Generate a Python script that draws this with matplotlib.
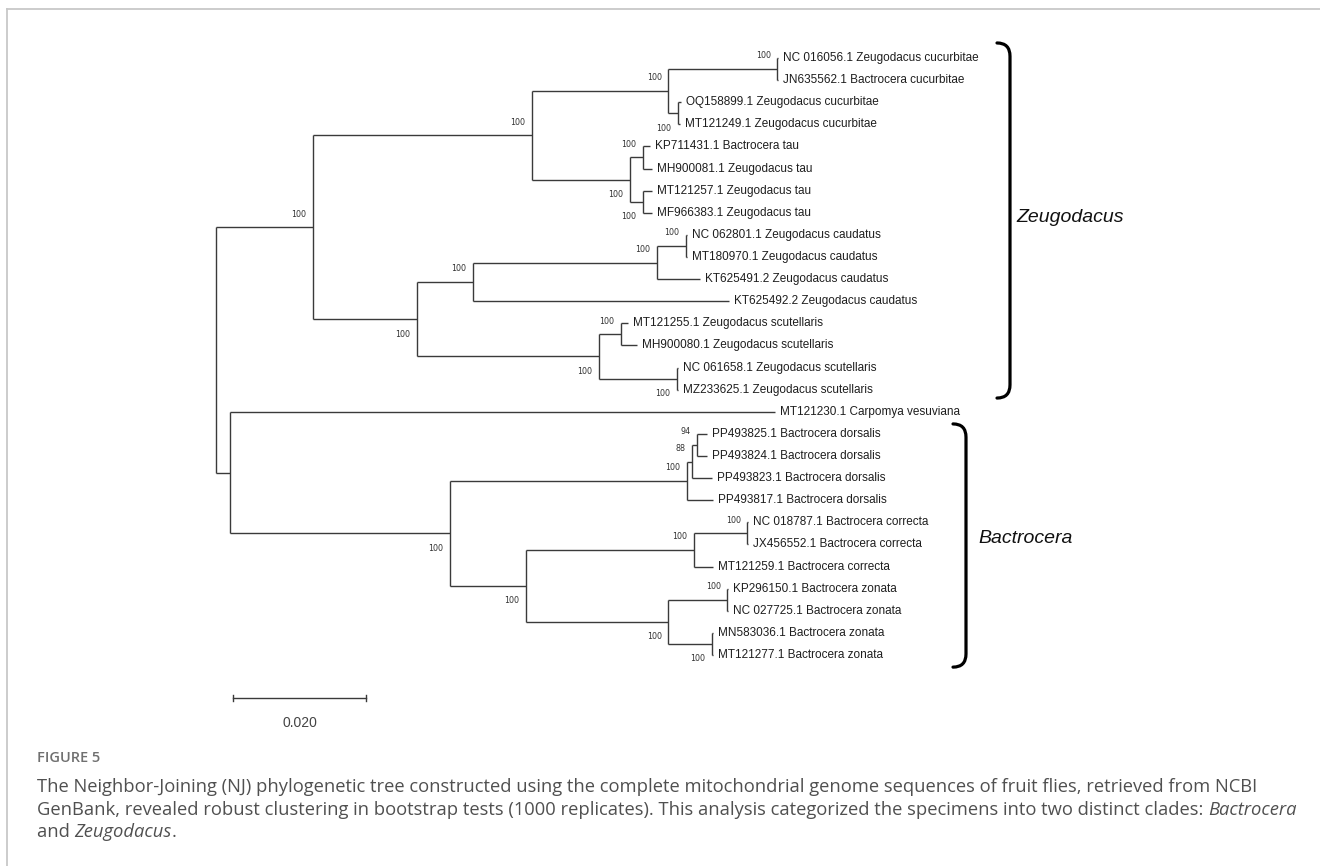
import matplotlib
matplotlib.use("Agg")
import matplotlib.pyplot as plt
from matplotlib.lines import Line2D
from matplotlib.path import Path
from matplotlib.patches import PathPatch

# arbol NJ en formato newick (longitudes de rama y bootstrap)
tree_newick = (
    "(((("
    "(NC 016056.1 Zeugodacus cucurbitae:0.0001,JN635562.1 Bactrocera cucurbitae:0.0001)100:0.0164,"
    "(OQ158899.1 Zeugodacus cucurbitae:0.0005,MT121249.1 Zeugodacus cucurbitae:0.0004)100:0.0014)100:0.0205,"
    "((KP711431.1 Bactrocera tau:0.0011,MH900081.1 Zeugodacus tau:0.0014)100:0.0020,"
    "(MT121257.1 Zeugodacus tau:0.0013,MF966383.1 Zeugodacus tau:0.0014)100:0.0020)100:0.0147)100:0.0329,"
    "((((NC 062801.1 Zeugodacus caudatus:0.0001,MT180970.1 Zeugodacus caudatus:0.0001)100:0.0044,"
    "KT625491.2 Zeugodacus caudatus:0.0065)100:0.0277,KT625492.2 Zeugodacus caudatus:0.0386)100:0.0084,"
    "((MT121255.1 Zeugodacus scutellaris:0.0011,MH900080.1 Zeugodacus scutellaris:0.0024)100:0.0033,"
    "(NC 061658.1 Zeugodacus scutellaris:0.0001,MZ233625.1 Zeugodacus scutellaris:0.0001)100:0.0117)100:0.0274)100:0.0156)100:0.0146,"
    "(MT121230.1 Carpomya vesuviana:0.0820,"
    "((((PP493825.1 Bactrocera dorsalis:0.0015,PP493824.1 Bactrocera dorsalis:0.0015)94:0.0008,"
    "PP493823.1 Bactrocera dorsalis:0.0030)88:0.0008,PP493817.1 Bactrocera dorsalis:0.0039)100:0.0356,"
    "(((NC 018787.1 Bactrocera correcta:0.0001,JX456552.1 Bactrocera correcta:0.0001)100:0.0080,"
    "MT121259.1 Bactrocera correcta:0.0029)100:0.0253,"
    "((KP296150.1 Bactrocera zonata:0.0001,NC 027725.1 Bactrocera zonata:0.0001)100:0.0089,"
    "(MN583036.1 Bactrocera zonata:0.0001,MT121277.1 Bactrocera zonata:0.0001)100:0.0066)100:0.0214)100:0.0114)100:0.0331):0.0021);"
)

clade_names = ["Zeugodacus", "Bactrocera"]
clade_first = ["NC 016056.1 Zeugodacus cucurbitae", "PP493825.1 Bactrocera dorsalis"]
clade_last = ["MZ233625.1 Zeugodacus scutellaris", "MT121277.1 Bactrocera zonata"]

scale_value = 0.020
scale_text = "0.020"

caption_head = "FIGURE 5"
caption_l1 = ("The Neighbor-Joining (NJ) phylogenetic tree constructed using the complete "
              "mitochondrial genome sequences of fruit flies, retrieved from NCBI")
caption_l2 = ("GenBank, revealed robust clustering in bootstrap tests (1000 replicates). "
              "This analysis categorized the specimens into two distinct clades: ")


def parse_newick(s):
    pos = 0

    def node():
        nonlocal pos
        n = {"children": [], "name": "", "support": "", "length": 0.0}
        if s[pos] == "(":
            pos += 1
            while True:
                n["children"].append(node())
                if s[pos] == ",":
                    pos += 1
                    continue
                pos += 1
                break
            start = pos
            while s[pos] not in ":,);":
                pos += 1
            n["support"] = s[start:pos]
        else:
            start = pos
            while s[pos] not in ":,);":
                pos += 1
            n["name"] = s[start:pos]
        if s[pos] == ":":
            pos += 1
            start = pos
            while s[pos] not in ",);":
                pos += 1
            n["length"] = float(s[start:pos])
        return n

    return node()


root = parse_newick(tree_newick)
root["length"] = 0.0
leaves = []


def layout(n, x_parent, first):
    n["x"] = x_parent + n["length"]
    n["px"] = x_parent
    n["first"] = first
    if not n["children"]:
        n["y"] = len(leaves)
        leaves.append(n)
    else:
        for i, c in enumerate(n["children"]):
            layout(c, n["x"], i == 0)
        n["y"] = (n["children"][0]["y"] + n["children"][-1]["y"]) / 2


layout(root, 0.0, True)

# figura en pixeles: 6650 px por unidad de distancia, 22.11 px por fila
PX = 6650.0
x_root_px = 216
row0_px = 58
row_px = 22.11

fig = plt.figure(figsize=(13.2, 8.66), dpi=100)
ax = fig.add_axes([0, 0, 1, 1])
ax.set_xlim(-x_root_px / PX, (1320 - x_root_px) / PX)
ax.set_ylim((866 - row0_px) / row_px, -row0_px / row_px)
ax.axis("off")

line_col = "#3a3a3a"
gap = 5 / PX


def draw(n, is_root=False):
    if not is_root:
        ax.plot([n["px"], n["x"]], [n["y"], n["y"]], color=line_col, lw=1.0,
                solid_capstyle="butt")
    if n["children"]:
        ys = [c["y"] for c in n["children"]]
        ax.plot([n["x"], n["x"]], [min(ys), max(ys)], color=line_col, lw=1.0,
                solid_capstyle="butt")
        if n["support"]:
            dy = -0.6 if n["first"] else 0.68
            ax.text(n["x"] - 6.5 / PX, n["y"] + dy, n["support"], fontsize=5.8,
                    family="DejaVu Sans", color="#333333", ha="right", va="center")
        for c in n["children"]:
            draw(c)
    else:
        ax.text(n["x"] + gap, n["y"], n["name"], fontsize=8.5,
                family="Liberation Sans", color="#1e1e1e", ha="left", va="center")


draw(root, True)

# llaves de los clados
leaf_row = {lf["name"]: lf["y"] for lf in leaves}
bracket_x = [1010, 966]
bracket_pad = [(0.68, 0.38), (0.45, 0.55)]
label_gap = [6, 12]
label_dy = [-0.15, -0.3]
for k in range(len(clade_names)):
    y0 = leaf_row[clade_first[k]] - bracket_pad[k][0]
    y1 = leaf_row[clade_last[k]] + bracket_pad[k][1]
    xb = (bracket_x[k] - x_root_px) / PX
    w = 13 / PX
    h = 0.6
    verts = [(xb - w, y0), (xb, y0), (xb, y0 + h), (xb, y1 - h), (xb, y1), (xb - w, y1)]
    codes = [Path.MOVETO, Path.CURVE3, Path.CURVE3, Path.LINETO, Path.CURVE3, Path.CURVE3]
    ax.add_patch(PathPatch(Path(verts, codes), fill=False, color="black", lw=2.3,
                           capstyle="round"))
    ax.text(xb + label_gap[k] / PX, (y0 + y1) / 2 + label_dy[k], clade_names[k], fontsize=14,
            family="Liberation Sans", style="italic", color="#111111",
            ha="left", va="center")

# barra de escala
sb_x0 = 17 / PX
sb_row = (698 - row0_px) / row_px
ax.plot([sb_x0, sb_x0 + scale_value], [sb_row, sb_row], color=line_col, lw=1.0)
for xx in (sb_x0, sb_x0 + scale_value):
    ax.plot([xx, xx], [sb_row - 0.15, sb_row + 0.15], color=line_col, lw=1.0)
ax.text(sb_x0 + scale_value / 2, (723 - row0_px) / row_px, scale_text, fontsize=10,
        family="Liberation Sans", color="#444444", ha="center", va="center")

# marco gris
fx = 7 / 1320
fy = 1 - 9 / 866
fig.add_artist(Line2D([fx, 1], [fy, fy], transform=fig.transFigure, color="#c8c8c8", lw=1.3))
fig.add_artist(Line2D([fx, fx], [fy, 0], transform=fig.transFigure, color="#c8c8c8", lw=1.3))

# leyenda de la figura
cx = 37 / 1320
cap_col = "#505050"
cap_size = 13.2
fig.text(cx, 1 - 758 / 866, caption_head, fontsize=10.5, family="Open Sans",
         weight="semibold", color="#707070", ha="left", va="center")
fig.text(cx, 1 - 787 / 866, caption_l1, fontsize=cap_size, family="Open Sans",
         color=cap_col, ha="left", va="center")

renderer = fig.canvas.get_renderer()


def chain(pieces, y):
    x = cx
    for txt, it in pieces:
        t = fig.text(x, y, txt, fontsize=cap_size, family="Open Sans",
                     style="italic" if it else "normal", color=cap_col,
                     ha="left", va="center")
        bb = t.get_window_extent(renderer)
        x = bb.x1 / fig.bbox.width


chain([(caption_l2, False), ("Bactrocera", True)], 1 - 810 / 866)
chain([("and ", False), ("Zeugodacus", True), (".", False)], 1 - 832 / 866)

fig.savefig("out.png", dpi=100)
